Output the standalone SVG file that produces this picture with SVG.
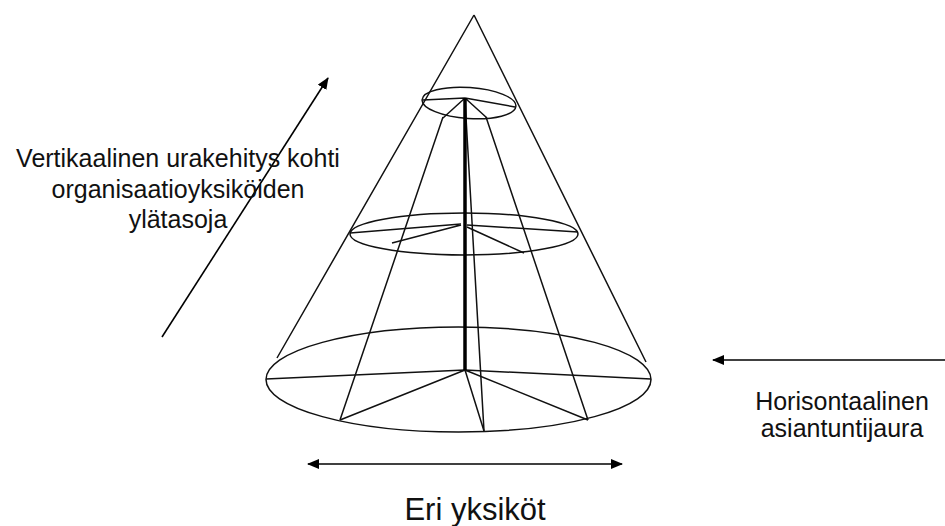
<svg xmlns="http://www.w3.org/2000/svg" width="945" height="526" viewBox="0 0 945 526">
<defs>
<marker id="ah" viewBox="0 0 12 10" refX="11" refY="5" markerWidth="12" markerHeight="10" markerUnits="userSpaceOnUse" orient="auto-start-reverse">
<path d="M0,0 L12,5 L0,10 Z" fill="#000"/>
</marker>
</defs>
<style>
.w{fill:none;stroke:#111;stroke-width:1.5}
.ax{fill:none;stroke:#000;stroke-width:3.5}
.ar{fill:none;stroke:#000;stroke-width:1.6}
.t{font-family:"Liberation Sans",Arial,sans-serif;fill:#111;text-anchor:middle}
</style>
<rect width="945" height="526" fill="#fff"/>
<g id="cone">
<path class="w" d="M474,15 L277,358 M474,15 L646,362"/>
<ellipse class="w" cx="469" cy="103" rx="47" ry="15.5" transform="rotate(4 469 103)"/>
<ellipse class="w" cx="464" cy="234" rx="114" ry="21"/>
<ellipse class="w" cx="458.5" cy="379.5" rx="192.5" ry="52.5"/>
<path class="w" d="M443,117 L340,420 M486,117 L588,420 M465,100 L484,431"/>
<path class="w" d="M465,98 L423,100 M465,98 L515,107 M465,98 L443,118 M465,98 L487,118"/>
<path class="w" d="M461,224 L350,233 M467,225 L578,232 M461,225 L392,243 M467,227 L524,253"/>
<path class="w" d="M465,370 L266,379 M465,370 L651,379 M465,370 L340,420 M465,370 L588,420 M465,370 L484,431"/>
<line class="ax" x1="465" y1="98" x2="465" y2="370"/>
</g>
<g id="connectors">
<line class="ar" x1="162" y1="337" x2="328" y2="78" marker-end="url(#ah)"/>
<line class="ar" x1="945" y1="360" x2="713" y2="360" marker-end="url(#ah)"/>
<line class="ar" x1="308" y1="464" x2="622" y2="464" marker-start="url(#ah)" marker-end="url(#ah)"/>
</g>
<g id="label-vertical">
<text class="t" font-size="25" x="178" y="167">Vertikaalinen urakehitys kohti</text>
<text class="t" font-size="25" x="178" y="198">organisaatioyksiköiden</text>
<text class="t" font-size="25" x="178" y="228">ylätasoja</text>
</g>
<g id="label-horizontal">
<text class="t" font-size="25" x="842" y="410">Horisontaalinen</text>
<text class="t" font-size="25" x="842" y="437">asiantuntijaura</text>
</g>
<g id="label-units">
<text class="t" font-size="31" x="475" y="520">Eri yksiköt</text>
</g>
</svg>
